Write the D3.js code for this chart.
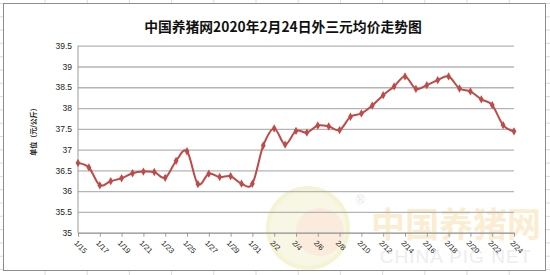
<!DOCTYPE html>
<html>
<head>
<meta charset="utf-8">
<script src="https://cdn.jsdelivr.net/npm/d3@7"></script>
<style>
  body { margin: 0; background: #fff; }
  svg { display: block; }
</style>
</head>
<body>
<svg id="chart"></svg>
<script>
// data
var dates = ["1/15","1/16","1/17","1/18","1/19","1/20","1/21","1/22","1/23","1/24","1/25","1/26","1/27","1/28","1/29","1/30","1/31",
  "2/1","2/2","2/3","2/4","2/5","2/6","2/7","2/8","2/9","2/10","2/11","2/12","2/13","2/14","2/15","2/16","2/17","2/18","2/19","2/20","2/21","2/22","2/23","2/24"];
var prices = [36.68,36.57,36.14,36.24,36.31,36.43,36.47,36.46,36.32,36.73,36.96,36.17,36.42,36.34,36.36,36.18,36.18,
  37.10,37.51,37.12,37.45,37.41,37.58,37.56,37.47,37.79,37.87,38.06,38.31,38.52,38.76,38.46,38.55,38.67,38.76,38.47,38.40,38.21,38.07,37.59,37.44];
var yTicks = [35,35.5,36,36.5,37,37.5,38,38.5,39,39.5];
var title = "中国养猪网2020年2月24日外三元均价走势图";
var yTitle = "单位（元/公斤）";

var width = 550, height = 275;
var plot = { left: 78, right: 514, top: 45.7, bottom: 232.7 };

var svg = d3.select("#chart")
  .attr("width", width)
  .attr("height", height);

// spreadsheet cells behind the chart
var bg = svg.append("g").attr("stroke", "#dadada").attr("stroke-width", 1);
for (var cx = 45; cx < width; cx += 42.2) {
  bg.append("line").attr("x1", cx).attr("x2", cx).attr("y1", 0).attr("y2", height);
}
for (var cy = 3.5; cy < height; cy += 13.3) {
  bg.append("line").attr("x1", 0).attr("x2", width).attr("y1", cy).attr("y2", cy);
}

// chart area box
svg.append("rect")
  .attr("x", 3.5).attr("y", 3.5)
  .attr("width", 542).attr("height", 267)
  .attr("fill", "#fff")
  .attr("stroke", "#8c8c8c")
  .attr("stroke-width", 1);

// watermark (faint)
var wm = svg.append("g").attr("opacity", 0.55);
wm.append("circle").attr("cx", 308).attr("cy", 228).attr("r", 40)
  .attr("fill", "#f3f0cf").attr("stroke", "#ecebb0").attr("stroke-width", 4);
wm.append("circle").attr("cx", 320).attr("cy", 232).attr("r", 24)
  .attr("fill", "#f6dcc0");
wm.append("text").attr("x", 356).attr("y", 204).attr("font-size", 12)
  .attr("fill", "#cfcfcf").attr("font-family", "Liberation Sans").text("®");
wm.append("text").attr("x", 456).attr("y", 237).attr("text-anchor", "middle")
  .attr("font-family", "Noto Sans CJK SC").attr("font-weight", "bold").attr("font-size", 34)
  .attr("fill", "#f7dfae").text("中国养猪网");
wm.append("text").attr("x", 456).attr("y", 263).attr("text-anchor", "middle")
  .attr("font-family", "Liberation Sans").attr("font-size", 19)
  .attr("fill", "#e0e0e0").attr("letter-spacing", 1).text("CHINA PIG NET");

var x = d3.scalePoint().domain(dates).range([plot.left, plot.right]);
var y = d3.scaleLinear().domain([35, 39.5]).range([plot.bottom, plot.top]);

// gridlines + y labels
var yAxis = svg.append("g")
  .attr("transform", "translate(" + plot.left + ",0)")
  .call(d3.axisLeft(y).tickValues(yTicks).tickSize(-(plot.right - plot.left)).tickPadding(6).tickFormat(d3.format("")));
yAxis.select(".domain").remove();
yAxis.selectAll(".tick line").attr("stroke", "#b4b4b4").attr("stroke-width", 1.3);
yAxis.selectAll(".tick text")
  .attr("font-family", "Liberation Sans")
  .attr("font-size", 8.5)
  .attr("fill", "#222");

// y axis line
svg.append("line")
  .attr("x1", plot.left).attr("x2", plot.left)
  .attr("y1", plot.top).attr("y2", plot.bottom)
  .attr("stroke", "#9a9a9a").attr("stroke-width", 1);

// x axis
var labelDates = dates.filter(function(d, i) { return i % 2 === 0; });
var xAxis = svg.append("g")
  .attr("transform", "translate(0," + plot.bottom + ")")
  .call(d3.axisBottom(x).tickValues(labelDates).tickSize(4).tickSizeOuter(0));
xAxis.select(".domain").attr("stroke", "#9a9a9a");
xAxis.selectAll(".tick line").attr("stroke", "#9a9a9a");
xAxis.selectAll(".tick text")
  .attr("font-family", "Liberation Sans")
  .attr("font-size", 7.5)
  .attr("fill", "#222")
  .attr("text-anchor", "start")
  .attr("x", 0)
  .attr("y", 0)
  .attr("dy", "0.35em")
  .attr("transform", "translate(-3,9) rotate(45)");

// line (smoothed like the original)
var line = d3.line()
  .x(function(d, i) { return x(dates[i]); })
  .y(function(d) { return y(d); })
  .curve(d3.curveCardinal.tension(0));

svg.append("path")
  .datum(prices)
  .attr("fill", "none")
  .attr("stroke", "#be4b48")
  .attr("stroke-width", 2)
  .attr("d", line);

svg.selectAll(".dot")
  .data(prices)
  .enter().append("path")
  .attr("class", "dot")
  .attr("d", d3.symbol().type(d3.symbolDiamond).size(20))
  .attr("fill", "#be4b48")
  .attr("transform", function(d, i) { return "translate(" + x(dates[i]) + "," + y(d) + ")"; });

// title
svg.append("text")
  .attr("x", 283)
  .attr("y", 32)
  .attr("text-anchor", "middle")
  .attr("font-family", "Noto Sans CJK SC")
  .attr("font-weight", "bold")
  .attr("font-size", 13.8)
  .attr("fill", "#111")
  .text(title);

// y axis title
svg.append("text")
  .attr("transform", "translate(36,130) rotate(-90)")
  .attr("text-anchor", "middle")
  .attr("font-family", "Noto Sans CJK SC")
  .attr("font-weight", "bold")
  .attr("font-size", 7)
  .attr("fill", "#222")
  .text(yTitle);
</script>
</body>
</html>
